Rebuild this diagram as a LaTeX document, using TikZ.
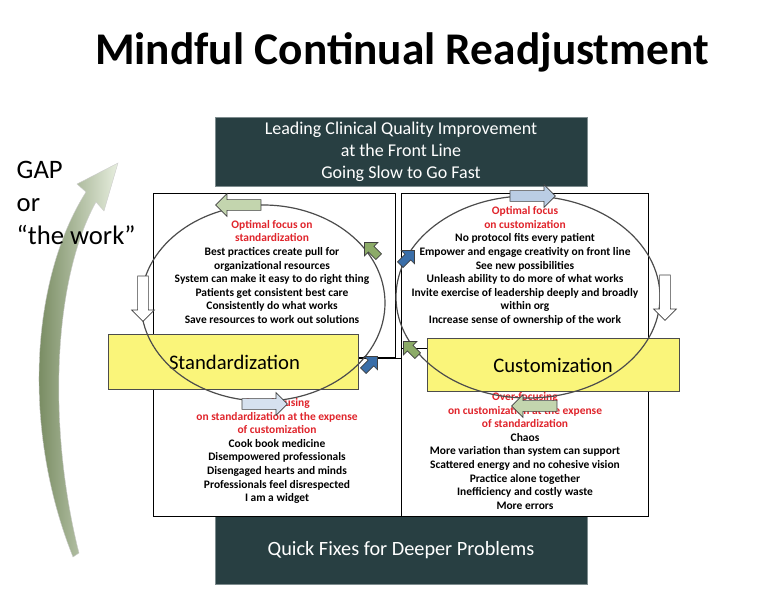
\documentclass[tikz,border=0pt]{standalone}
\usepackage{fontspec}
\setmainfont{Carlito}
\usetikzlibrary{shapes.arrows}

\definecolor{slate}{HTML}{283F42}
\definecolor{hilite}{HTML}{FAF57A}
\definecolor{sage}{HTML}{C3D5AE}
\definecolor{moss}{HTML}{8CAB68}
\definecolor{steel}{HTML}{3A6EA8}
\definecolor{sky}{HTML}{BACDE4}
\definecolor{alert}{HTML}{E0242B}

\tikzset{
  banner/.style={fill=slate,draw=slate!60,text=white,align=center},
  pane/.style={draw=black,fill=white,line width=0.5pt},
  tag/.style={draw=black!70,fill=hilite,font=\fontsize{15.5}{18}\selectfont},
  loop/.style={draw=black!70,line width=0.9pt},
  blk/.style={single arrow,draw=black!75,line width=0.5pt,minimum height=#1,
    minimum width=17pt,single arrow head extend=2.5pt,inner sep=2pt},
  blk/.default=34pt,
  small/.style={single arrow,draw=black!75,line width=0.5pt,minimum height=15pt,
    minimum width=14pt,single arrow head extend=2pt,inner sep=1.2pt},
  lst/.style={align=center,font=\bfseries\fontsize{8.6}{10.2}\selectfont},
}
\newcommand{\hot}[1]{\textcolor{alert}{#1}}

\begin{document}
\begin{tikzpicture}[x=0.75pt,y=-0.75pt]
\useasboundingbox (0,0) rectangle (774,598);

% title
\node[font=\bfseries\fontsize{34}{38}\selectfont] (title) at (402,52) {Mindful Continual Readjustment};

% dark banners
\node[banner,minimum width=279pt,minimum height=51pt,font=\fontsize{13.5}{16.5}\selectfont] (lead) at (401,152)
  {Leading Clinical Quality Improvement\\at the Front Line\\Going Slow to Go Fast};
\node[banner,minimum width=279pt,minimum height=52pt,font=\fontsize{15.2}{18}\selectfont] (quick) at (401,550)
  {Quick Fixes for Deeper Problems};

% four panes
\draw[pane] (153,358) rectangle (401,516);
\draw[pane] (401,348) rectangle (648,516);
\draw[pane] (153,193) rectangle (395,357);
\draw[pane] (401,193) rectangle (648,348);

% pane texts
\node[lst] (stdtop) at (272,272) {\hot{Optimal focus on}\\\hot{standardization}\\Best practices create pull for\\organizational resources\\
  System can make it easy to do right thing\\Patients get consistent best care\\Consistently do what works\\Save resources to work out solutions};
\node[lst] (stdlow) at (277,451) {\hot{Over-focusing}\\\hot{on standardization at the expense}\\\hot{of customization}\\Cook book medicine\\
  Disempowered professionals\\Disengaged hearts and minds\\Professionals feel disrespected\\I am a widget};
\node[lst] (custop) at (525,266) {\hot{Optimal focus}\\\hot{on customization}\\No protocol fits every patient\\Empower and engage creativity on front line\\
  See new possibilities\\Unleash ability to do more of what works\\Invite exercise of leadership deeply and broadly\\within org\\Increase sense of ownership of the work};
\node[lst] (cuslow) at (525,451) {\hot{Over-focusing}\\\hot{on customization at the expense}\\\hot{of standardization}\\Chaos\\
  More variation than system can support\\Scattered energy and no cohesive vision\\Practice alone together\\Inefficiency and costly waste\\More errors};

% yellow tags
\node[tag,minimum width=187.5pt,minimum height=41pt,text width=170pt,align=left] (std) at (233,362) {\hspace{37pt}Standardization};
\node[tag,minimum width=189pt,minimum height=40pt] (cus) at (553,365) {\hspace{0pt}Customization};

% loops
\draw[loop] (263,303) ellipse (122 and 98);
\draw[loop] (528,297) ellipse (132 and 101);

% block arrows on the loops
\node[blk,fill=sage,shape border rotate=180] (a1) at (241,205) {};
\node[blk,fill=sky] (a2) at (530,196) {};
\node[blk,fill=white,rotate=-90] (a3) at (143,296) {};
\node[blk,fill=white,rotate=-90] (a4) at (665,295) {};
\node[blk,fill=sky!60] (a5) at (262,404) {};
\node[blk,fill=sage,shape border rotate=180] (a6) at (537,406) {};
\node[small,fill=moss,rotate=135] (a7) at (373,251) {};
\node[small,fill=moss,rotate=135] (a8) at (412,350) {};
\node[small,fill=steel,rotate=45] (a9) at (369,365) {};
\node[small,fill=steel,rotate=45] (a10) at (406,259) {};

% gap arrow
\shade[left color=moss!70!black,right color=sage!40,draw=black!20,line width=0.3pt]
  (73,557) .. controls (22,430) and (30,280) .. (86,192)
  -- (77,184) -- (118,163) -- (104,211) -- (96,202)
  .. controls (52,282) and (48,430) .. (79,553) -- cycle;
\node[anchor=north west,align=left,font=\fontsize{20}{25}\selectfont] (gap) at (12,156) {GAP\\or\\“the work”};
\end{tikzpicture}
\end{document}
